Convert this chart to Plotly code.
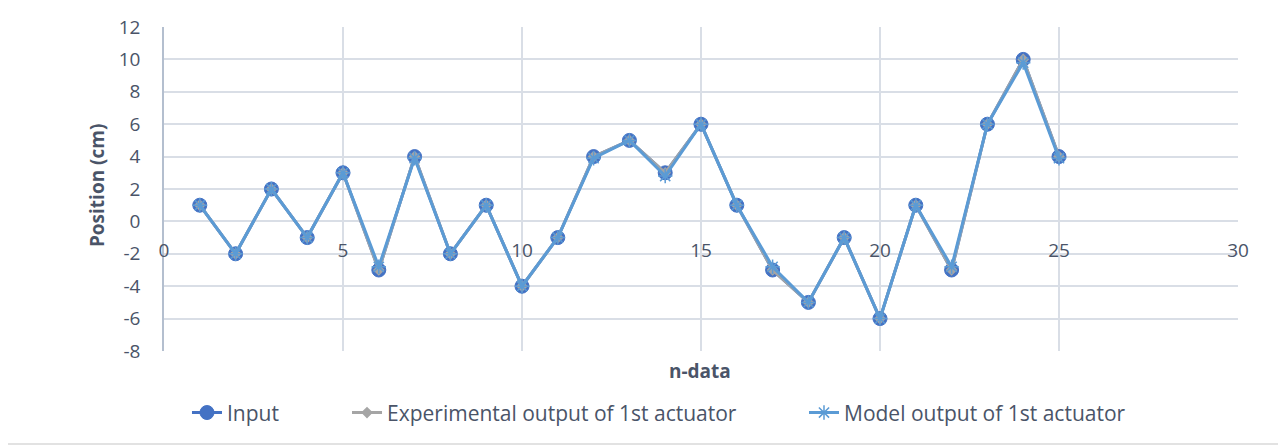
import plotly.graph_objects as go

n = list(range(1, 26))
input_vals = [1, -2, 2, -1, 3, -3, 4, -2, 1, -4, -1, 4, 5, 3, 6, 1, -3, -5, -1, -6, 1, -3, 6, 10, 4]
exp_vals = [1, -2, 2, -1, 3, -3, 4, -2, 1, -4, -1, 4, 5, 3, 6, 1, -3, -5, -1, -6, 1, -3, 6, 10, 4]
model_vals = [1, -2, 2, -1, 3, -2.8, 3.9, -2, 1, -4, -1, 3.9, 5, 2.8, 6, 1, -2.8, -5, -1, -6, 1, -2.8, 6, 9.8, 3.9]

x_ticks = [0, 5, 10, 15, 20, 25, 30]
y_ticks = [-8, -6, -4, -2, 0, 2, 4, 6, 8, 10, 12]
y_tick_labels = ["-8", "-6", "-4", "-2", "0", "2", "4", "6", "8", "10", "12"]

FONT = "Open Sans"
TXT = "#4A5468"
GRID = "#D9DEE6"
FS = 19
LFS = 21

fig = go.Figure()
fig.add_trace(go.Scatter(
    x=n, y=input_vals, name="Input", mode="lines+markers", legend="legend",
    line=dict(color="#4472C4", width=3),
    marker=dict(symbol="circle", size=14, color="#4472C4", line=dict(color="#4472C4", width=1))))
fig.add_trace(go.Scatter(
    x=n, y=exp_vals, name="Experimental output of 1st actuator", mode="lines+markers", legend="legend2",
    line=dict(color="#A5A5A5", width=3),
    marker=dict(symbol="diamond", size=9, color="#A5A5A5")))
fig.add_trace(go.Scatter(
    x=n, y=model_vals, name="Model output of 1st actuator", mode="lines+markers", legend="legend3",
    line=dict(color="#5B9BD5", width=3),
    marker=dict(symbol="asterisk-open", size=12, color="#5B9BD5", line=dict(color="#5B9BD5", width=1.5))))

leg_common = dict(orientation="h", y=-0.191, yanchor="middle", xanchor="left",
                  font=dict(size=LFS, color=TXT), bgcolor="rgba(0,0,0,0)")

fig.update_layout(
    width=1286, height=448,
    margin=dict(l=156, r=56, t=19, b=105, autoexpand=False),
    paper_bgcolor="white", plot_bgcolor="white",
    font=dict(family=FONT, size=FS, color=TXT),
    showlegend=True,
    legend=dict(x=0.0214, **leg_common),
    legend2=dict(x=0.1704, **leg_common),
    legend3=dict(x=0.5959, **leg_common),
    xaxis=dict(range=[0, 30], tickvals=x_ticks, showgrid=True, gridcolor=GRID, gridwidth=1.5,
               zeroline=False, showline=False, anchor="free", position=0.4, automargin=False,
               ticks="outside", ticklen=12, tickcolor="rgba(0,0,0,0)",
               tickfont=dict(size=FS, color=TXT)),
    yaxis=dict(range=[-8, 12], tickvals=y_ticks, ticktext=y_tick_labels,
               showgrid=True, gridcolor=GRID, gridwidth=1.5,
               zeroline=False, showline=True, linecolor="#B4BFCF", linewidth=1.5, automargin=False,
               ticks="outside", ticklen=18, tickcolor="rgba(0,0,0,0)",
               tickfont=dict(size=FS, color=TXT)),
)

fig.add_annotation(text="<b>n-data</b>", x=0.499, y=-0.062, xref="paper", yref="paper",
                   showarrow=False, font=dict(size=FS, color=TXT), yanchor="middle", xanchor="center")
fig.add_annotation(text="<b>Position (cm)</b>", x=-0.063, y=0.51, xref="paper", yref="paper",
                   showarrow=False, textangle=-90, font=dict(size=FS, color=TXT),
                   yanchor="middle", xanchor="center")

fig.add_shape(type="rect", xref="paper", yref="paper",
              x0=-0.149, x1=1.042, y0=-0.287, y1=1.065,
              line=dict(color="#D9D9D9", width=1.5), fillcolor="rgba(0,0,0,0)", layer="below")

fig.write_html("out.html")
